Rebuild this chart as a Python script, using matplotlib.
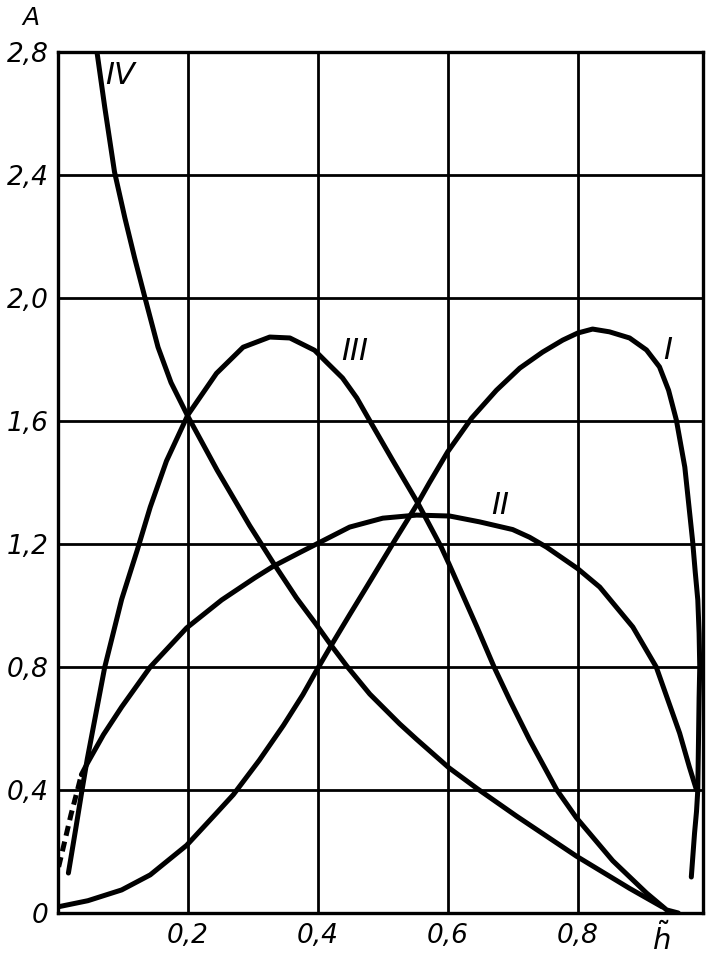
import matplotlib
matplotlib.use("Agg")
import matplotlib.pyplot as plt

# ---- data ----
I_x = [0.0, 0.046, 0.098, 0.142, 0.198, 0.244, 0.27, 0.31, 0.347, 0.377, 0.397, 0.42, 0.449,
       0.475, 0.518, 0.554, 0.572, 0.60, 0.637, 0.675, 0.711, 0.746, 0.777, 0.80, 0.823,
       0.849, 0.88, 0.906, 0.926, 0.94, 0.952, 0.965, 0.971, 0.977, 0.981, 0.985, 0.987,
       0.988, 0.987, 0.986, 0.985, 0.983, 0.98, 0.975]
I_y = [0.02, 0.04, 0.075, 0.124, 0.22, 0.325, 0.385, 0.497, 0.61, 0.71, 0.785, 0.868, 0.97,
       1.06, 1.21, 1.333, 1.40, 1.50, 1.61, 1.70, 1.772, 1.824, 1.863, 1.886, 1.899,
       1.89, 1.87, 1.831, 1.776, 1.70, 1.603, 1.45, 1.33, 1.21, 1.11, 1.018, 0.91,
       0.80, 0.70, 0.55, 0.40, 0.33, 0.26, 0.117]

II_dash_x = [0.001, 0.01, 0.02, 0.03, 0.036]
II_dash_y = [0.15, 0.23, 0.32, 0.40, 0.45]
II_x = [0.036, 0.046, 0.07, 0.098, 0.142, 0.198, 0.252, 0.303, 0.331, 0.372, 0.398, 0.449, 0.50,
        0.552, 0.603, 0.649, 0.70, 0.726, 0.752, 0.80, 0.834, 0.885, 0.921, 0.957, 0.972, 0.983]
II_y = [0.45, 0.49, 0.58, 0.67, 0.80, 0.927, 1.018, 1.09, 1.127, 1.172, 1.20, 1.255, 1.284,
        1.294, 1.291, 1.272, 1.247, 1.222, 1.19, 1.12, 1.06, 0.93, 0.80, 0.585, 0.475, 0.40]

III_x = [0.016, 0.027, 0.037, 0.045, 0.072, 0.098, 0.122, 0.142, 0.167, 0.20, 0.244, 0.285,
         0.326, 0.357, 0.395, 0.414, 0.438, 0.46, 0.477, 0.515, 0.554, 0.59, 0.602, 0.645,
         0.672, 0.696, 0.726, 0.768, 0.798, 0.854, 0.906, 0.937, 0.955]
III_y = [0.13, 0.27, 0.40, 0.50, 0.80, 1.02, 1.18, 1.32, 1.47, 1.62, 1.755, 1.84,
         1.873, 1.87, 1.83, 1.79, 1.74, 1.675, 1.612, 1.473, 1.333, 1.19, 1.135, 0.93,
         0.797, 0.69, 0.563, 0.40, 0.31, 0.17, 0.065, 0.01, 0.0]

IV_x = [0.06, 0.072, 0.087, 0.103, 0.118, 0.134, 0.154, 0.174, 0.20, 0.245, 0.295, 0.331,
        0.367, 0.397, 0.42, 0.445, 0.48, 0.526, 0.552, 0.602, 0.645, 0.706, 0.798, 0.88, 0.93]
IV_y = [2.80, 2.62, 2.41, 2.26, 2.13, 2.0, 1.84, 1.725, 1.615, 1.44, 1.26, 1.14,
        1.025, 0.94, 0.872, 0.802, 0.712, 0.615, 0.565, 0.472, 0.405, 0.315, 0.185, 0.08, 0.02]

x_ticks = [0.2, 0.4, 0.6, 0.8]
x_tick_labels = ["0,2", "0,4", "0,6", "0,8"]
y_ticks = [0, 0.4, 0.8, 1.2, 1.6, 2.0, 2.4, 2.8]
y_tick_labels = ["0", "0,4", "0,8", "1,2", "1,6", "2,0", "2,4", "2,8"]

curve_labels = ["I", "II", "III", "IV"]
curve_label_pos = [(0.938, 1.83), (0.68, 1.325), (0.457, 1.825), (0.095, 2.725)]

# ---- drawing ----
plt.rcParams['mathtext.fontset'] = 'dejavusans'
fig = plt.figure(figsize=(7.1, 9.58), dpi=100)
ax = fig.add_axes([58/710, 45/958, 645/710, 861/958])
ax.set_xlim(0, 0.993)
ax.set_ylim(0, 2.8)

for s in ax.spines.values():
    s.set_linewidth(2.4)
    s.set_color("black")

for xv in x_ticks:
    ax.axvline(xv, color="black", lw=2.0, zorder=1)
for yv in y_ticks[1:-1]:
    ax.axhline(yv, color="black", lw=2.0, zorder=1)

lw = 3.6
kw = dict(color="black", lw=lw, solid_capstyle="round", solid_joinstyle="round", zorder=3)
ax.plot(I_x, I_y, **kw)
ax.plot(II_x, II_y, **kw)
ax.plot(II_dash_x, II_dash_y, color="black", lw=lw, dashes=(2.0, 1.2), zorder=3)
ax.plot(III_x, III_y, **kw)
ax.plot(IV_x, IV_y, **kw)

font = dict(family="DejaVu Sans", style="italic")
ax.set_xticks(x_ticks)
ax.set_xticklabels(x_tick_labels, fontsize=19, **font)
ax.set_yticks(y_ticks)
ax.set_yticklabels(y_tick_labels, fontsize=19, **font)
ax.tick_params(length=0, pad=7)

ax.text(0.928, -0.03, r"$\tilde{h}$", fontsize=21, ha="center", va="top",
        transform=ax.transData)
fig.text(31/710, 1 - 18/958, "A", fontsize=18, ha="center", va="center", **font)

for lab, (lx, ly) in zip(curve_labels, curve_label_pos):
    ax.text(lx, ly, lab, fontsize=22, ha="center", va="center", zorder=4, **font)

fig.savefig("out.png", dpi=100, facecolor="white")
